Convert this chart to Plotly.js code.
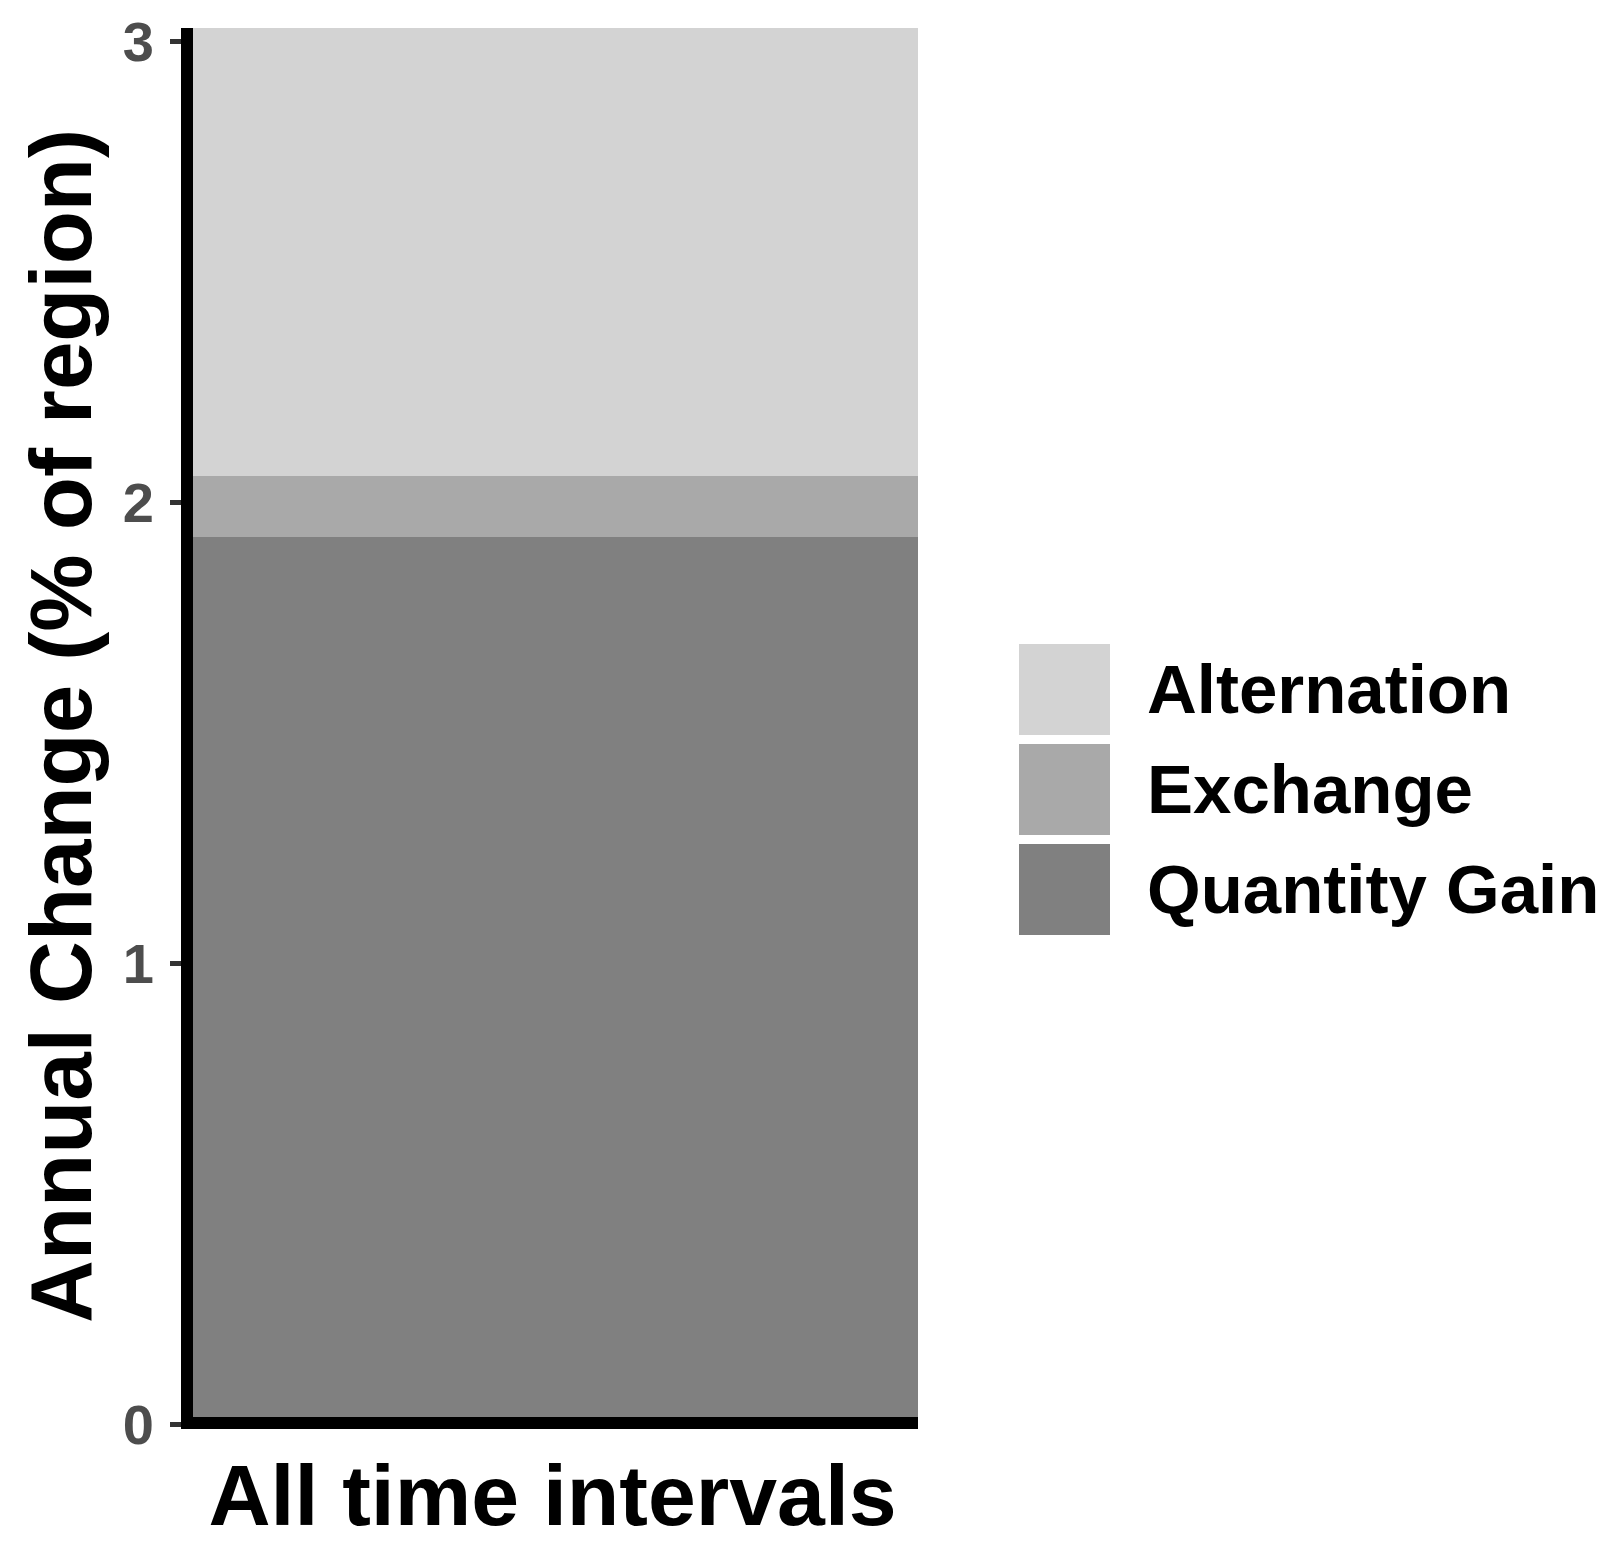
<!DOCTYPE html>
<html>
<head>
<meta charset="utf-8">
<script src="https://cdn.plot.ly/plotly-3.0.1.min.js"></script>
<style>html,body{margin:0;padding:0;background:#fff;}#chart{width:1612px;height:1542px;}</style>
</head>
<body>
<div id="chart"></div>
<script>
// ---- data ----
const categories = ["All time intervals"];
const seriesNames = ["Quantity Gain", "Exchange", "Alternation"];
const quantityGain = [1.925];
const exchange = [0.133];
const alternation = [0.972];
const seriesColors = ["#808080", "#A9A9A9", "#D3D3D3"];
const yTickVals = [0, 1, 2, 3];
const yTickText = ["0", "1", "2", "3"];
const legendOrder = ["Alternation", "Exchange", "Quantity Gain"];

const seriesValues = [quantityGain, exchange, alternation];
const FONT = "Liberation Sans, Arial, Helvetica, sans-serif";

const traces = seriesNames.map((name, i) => ({
  type: "bar",
  name: name,
  x: categories,
  y: seriesValues[i],
  marker: {color: seriesColors[i], line: {width: 0}},
  width: 1,
  showlegend: false,
  hoverinfo: "name+y"
}));

const total = quantityGain[0] + exchange[0] + alternation[0];

// plot area geometry (pixels) used for the hand-drawn legend
const W = 1612, H = 1542;
const mL = 187, mR = W - 918, mT = 28, mB = H - 1424;
const pw = W - mL - mR, ph = H - mT - mB;
const px = v => (v - mL) / pw;
const py = v => (H - mB - v) / ph;

const shapes = [];
const annotations = [];
// axis lines (ggplot style, centred on the panel edge)
shapes.push({type: "line", xref: "paper", yref: "paper", x0: 0, x1: 0, y0: py(1429), y1: 1,
  line: {color: "#000", width: 12}, layer: "above"});
shapes.push({type: "line", xref: "paper", yref: "paper", x0: px(181), x1: 1, y0: py(1423), y1: py(1423),
  line: {color: "#000", width: 12}, layer: "above"});

// legend
const legendColors = {"Quantity Gain": seriesColors[0], "Exchange": seriesColors[1], "Alternation": seriesColors[2]};
legendOrder.forEach((name, i) => {
  const top = 644 + i * 100, bot = top + 91;
  shapes.push({type: "rect", xref: "paper", yref: "paper",
    x0: px(1019), x1: px(1110), y0: py(bot), y1: py(top),
    fillcolor: legendColors[name], line: {width: 0}});
  annotations.push({xref: "paper", yref: "paper", x: px(1145), y: py((top + bot) / 2),
    xanchor: "left", yanchor: "middle", showarrow: false, text: name,
    font: {family: FONT, size: 69, color: "#000", weight: "bold"}});
});

const layout = {
  width: W, height: H,
  margin: {l: mL, r: mR, t: mT, b: mB, pad: 0},
  paper_bgcolor: "#fff", plot_bgcolor: "#fff",
  barmode: "stack", bargap: 0,
  showlegend: false,
  font: {family: FONT, weight: "bold"},
  xaxis: {
    type: "category", range: [-0.5, 0.5], showgrid: false, zeroline: false, showline: false,
    ticks: "", tickfont: {family: FONT, size: 86, color: "#000", weight: "bold"},
    ticklabelstandoff: 14, automargin: false, fixedrange: true
  },
  yaxis: {
    range: [0, total], showgrid: false, zeroline: false, showline: false,
    tickvals: yTickVals, ticktext: yTickText,
    ticks: "outside", ticklen: 16, tickwidth: 5, tickcolor: "#333333",
    tickfont: {family: FONT, size: 56, color: "#4D4D4D", weight: "bold"},
    ticklabelstandoff: 5,
    title: {text: "Annual Change (% of region)", standoff: 2,
      font: {family: FONT, size: 87, color: "#000", weight: "bold"}},
    automargin: false, fixedrange: true
  },
  shapes: shapes,
  annotations: annotations
};

Plotly.newPlot("chart", traces, layout, {displayModeBar: false, staticPlot: true});
</script>
</body>
</html>
